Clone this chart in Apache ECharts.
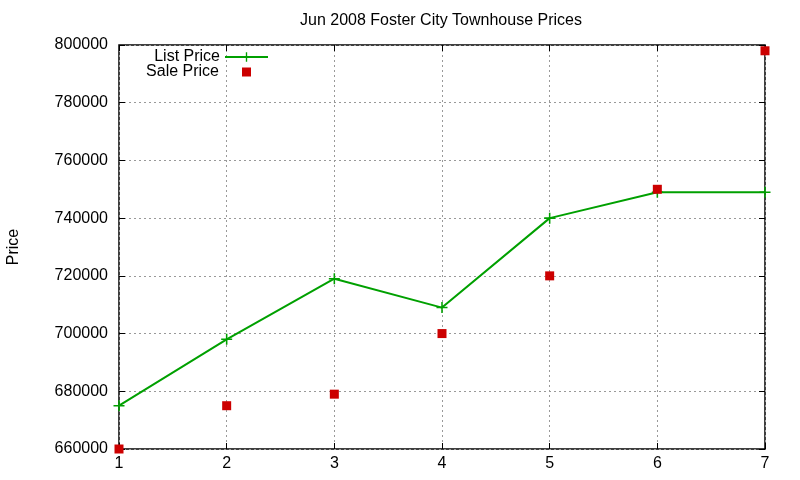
<!DOCTYPE html>
<html>
<head>
<meta charset="utf-8">
<script src="https://cdn.jsdelivr.net/npm/echarts@6/dist/echarts.min.js"></script>
<style>
  html, body { margin: 0; padding: 0; background: #fff; }
  #chart { width: 800px; height: 480px; }
</style>
</head>
<body>
<div id="chart"></div>
<script>
var weeks = [1, 2, 3, 4, 5, 6, 7];
var listPrice = [675000, 698000, 719000, 709000, 740000, 749000, 749000];
var salePrice = [660000, 675000, 679000, 700000, 720000, 750000, 798000];
var yTicks = [660000, 680000, 700000, 720000, 740000, 760000, 780000, 800000];

var plusPath = 'path://M4.3,0H5.7V4.3H10V5.7H5.7V10H4.3V5.7H0V4.3H4.3Z';
var font = 'Liberation Sans';
var green = '#00a000';
var red = '#cc0000';

function pairs(xs, ys) {
    return xs.map(function (x, i) { return [x, ys[i]]; });
}

function mirrorAxis(extra) {
    return Object.assign({
        axisLine: { show: false },
        axisTick: { show: true, inside: true, length: 6, lineStyle: { color: '#000' } },
        axisLabel: { show: false },
        splitLine: { show: false }
    }, extra);
}

var myChart = echarts.init(document.getElementById('chart'));

var option = {
    animation: false,
    backgroundColor: '#fff',
    title: {
        text: 'Jun 2008 Foster City Townhouse Prices',
        left: 436,
        top: 8,
        textAlign: 'center',
        textStyle: { fontFamily: font, fontSize: 16, fontWeight: 'normal', color: '#000' }
    },
    legend: [{
        right: 526,
        top: 44,
        align: 'right',
        itemWidth: 43,
        itemHeight: 12,
        textStyle: { fontFamily: font, fontSize: 16, color: '#000' },
        data: ['List Price']
    }, {
        right: 544,
        top: 59,
        align: 'right',
        itemWidth: 9,
        itemHeight: 9,
        textStyle: { fontFamily: font, fontSize: 16, color: '#000', padding: [0, 18, 0, 0] },
        data: [{ name: 'Sale Price', icon: 'rect' }]
    }],
    grid: {
        left: 119, right: 35, top: 45, bottom: 31,
        containLabel: false, outerBoundsMode: 'none',
        show: true, borderColor: '#000', borderWidth: 1.5
    },
    xAxis: [{
        type: 'value', min: 1, max: 7, interval: 1,
        axisLine: { show: false },
        axisTick: { show: true, inside: true, length: 6, lineStyle: { color: '#000' } },
        axisLabel: { fontFamily: font, fontSize: 16, color: '#000', margin: 7 },
        splitLine: { show: true, lineStyle: { color: '#999', type: [2, 3], width: 1 } }
    }, mirrorAxis({ type: 'value', min: 1, max: 7, interval: 1, position: 'top' })],
    yAxis: [{
        type: 'value', min: yTicks[0], max: yTicks[yTicks.length - 1], interval: 20000,
        name: 'Price', nameLocation: 'middle', nameGap: 97, nameRotate: 90,
        nameTextStyle: { fontFamily: font, fontSize: 16, color: '#000' },
        axisLine: { show: false },
        axisTick: { show: true, inside: true, length: 6, lineStyle: { color: '#000' } },
        axisLabel: {
            fontFamily: font, fontSize: 16, color: '#000', margin: 11,
            formatter: function (v) { return String(v); }
        },
        splitLine: { show: true, lineStyle: { color: '#999', type: [2, 3], width: 1 } }
    }, mirrorAxis({
        type: 'value', min: yTicks[0], max: yTicks[yTicks.length - 1], interval: 20000,
        position: 'right'
    })],
    series: [{
        name: 'List Price',
        type: 'line',
        data: pairs(weeks, listPrice),
        symbol: plusPath,
        symbolSize: 11,
        showAllSymbol: true,
        color: green,
        lineStyle: { color: green, width: 2 },
        itemStyle: { color: green, opacity: 1 },
        z: 3
    }, {
        name: 'Sale Price',
        type: 'scatter',
        data: pairs(weeks, salePrice),
        symbol: 'rect',
        symbolSize: 9,
        color: red,
        itemStyle: { color: red, opacity: 1 },
        z: 4
    }]
};

myChart.setOption(option);
</script>
</body>
</html>
